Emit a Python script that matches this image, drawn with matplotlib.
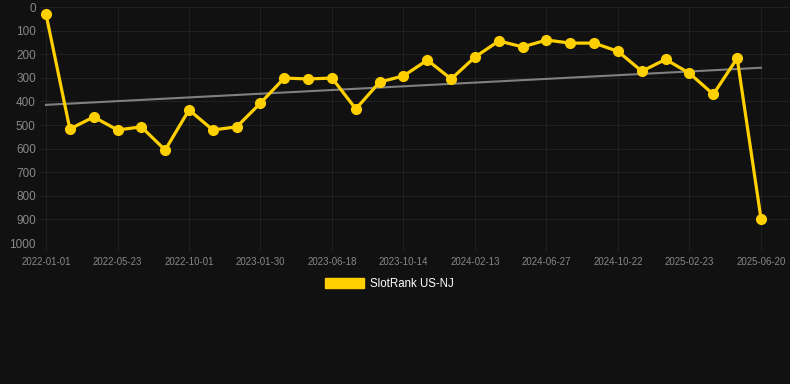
import numpy as np
from matplotlib import pyplot as plt
from matplotlib.patches import Patch

plt.rcParams['font.family'] = ['Liberation Sans', 'DejaVu Sans']

# rank per sampled date (lower is better), one point per period
ranks = [30, 517, 466, 521, 508, 606, 436, 521, 508, 407,
         301, 305, 301, 432, 318, 292, 225, 305, 212, 144,
         169, 140, 153, 153, 188, 272, 222, 281, 370, 217, 897]
tick_labels = ['2022-01-01', '2022-05-23', '2022-10-01', '2023-01-30',
               '2023-06-18', '2023-10-14', '2024-02-13', '2024-06-27',
               '2024-10-22', '2025-02-23', '2025-06-20']
series_name = 'SlotRank US-NJ'

x = np.arange(len(ranks))
# linear trend
k, b = np.polyfit(x, ranks, 1)
trend = k * x + b

fig = plt.figure(figsize=(7.9, 3.84), dpi=100)
fig.patch.set_facecolor('#111111')
ax = fig.add_axes([40/790, 1 - 243/384, 750/790, 236/384])
ax.set_facecolor('#111111')

ax.plot(x, trend, color='#808080', lw=1.5, zorder=2)
ax.plot(x, ranks, color='#FFD000', lw=2.3, marker='o', ms=7, zorder=3)

step = 23.833
ax.set_xlim(-6/step, 30 + 29/step)
ax.set_ylim(1000, 0)
ax.set_yticks(range(0, 1001, 100))
ax.set_xticks(x[::3])
ax.set_xticklabels(tick_labels)

ax.grid(True, color='#202020', lw=0.8)
for s in ax.spines.values():
    s.set_visible(False)
ax.tick_params(axis='y', colors='#202020', labelcolor='#888888', labelsize=8.5, length=0, pad=3)
ax.tick_params(axis='x', colors='#202020', labelcolor='#888888', labelsize=6.9, length=6, pad=4)

handle = Patch(facecolor='#FFD000', edgecolor='#FFD000')
fig.legend([handle], [series_name], loc='center', bbox_to_anchor=(389/790, 1 - 284/384),
           frameon=False, labelcolor='white', fontsize=8.3, handlelength=3.4, handleheight=0.9,
           handletextpad=0.5)

fig.savefig('out.png', dpi=100, facecolor=fig.get_facecolor())
